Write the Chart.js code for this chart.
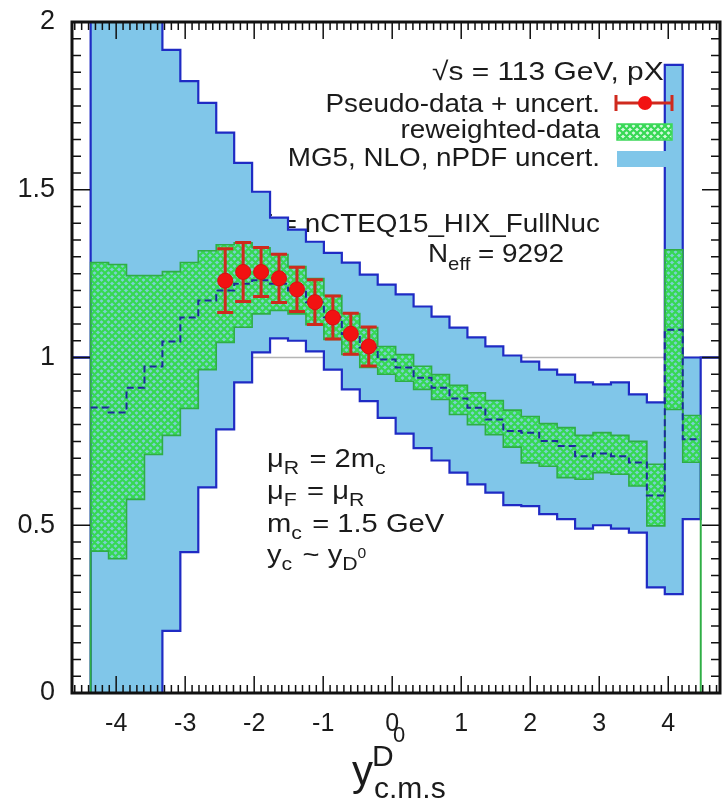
<!DOCTYPE html>
<html>
<head>
<meta charset="utf-8">
<script src="https://cdn.jsdelivr.net/npm/chart.js@4.4.0/dist/chart.umd.min.js"></script>
<style>
  html, body { margin: 0; padding: 0; background: #fff; }
  #wrap { width: 722px; height: 800px; position: relative; }
</style>
</head>
<body>
<div id="wrap"><canvas id="c"></canvas></div>
<script>
// rapidity bin edges (34 bins)
const binEdges = [-4.37, -4.11, -3.85, -3.59, -3.33, -3.07, -2.81, -2.55, -2.29, -2.03, -1.77, -1.51,
  -1.25, -0.99, -0.73, -0.47, -0.21, 0.05, 0.31, 0.57, 0.83, 1.09, 1.35, 1.61, 1.87, 2.13, 2.39,
  2.65, 2.91, 3.17, 3.43, 3.69, 3.95, 4.21, 4.47];

// MG5, NLO, nPDF uncertainty band
const mg5Upper = [2.6, 2.6, 2.6, 2.6, 1.917, 1.824, 1.759, 1.67, 1.58, 1.494, 1.417, 1.381, 1.345,
  1.312, 1.283, 1.247, 1.217, 1.188, 1.152, 1.122, 1.089, 1.06, 1.033, 1.006, 0.988, 0.964, 0.949,
  0.926, 0.92, 0.926, 0.89, 0.866, 1.872, 1.0];
const mg5Lower = [-0.3, -0.3, -0.3, -0.3, 0.185, 0.42, 0.613, 0.786, 0.926, 1.015, 1.057, 1.05, 1.018,
  0.964, 0.905, 0.87, 0.82, 0.773, 0.73, 0.693, 0.657, 0.622, 0.597, 0.56, 0.557, 0.533, 0.518,
  0.49, 0.5, 0.49, 0.478, 0.315, 0.295, 0.518];

// reweighted-data band + its central value
const rwUpper = [1.283, 1.277, 1.244, 1.244, 1.256, 1.283, 1.318, 1.336, 1.342, 1.327, 1.307, 1.271,
  1.235, 1.185, 1.131, 1.089, 1.033, 1.009, 0.974, 0.949, 0.917, 0.895, 0.872, 0.843, 0.824, 0.803,
  0.791, 0.768, 0.776, 0.768, 0.75, 0.682, 1.321, 0.827];
const rwLower = [0.423, 0.40, 0.577, 0.711, 0.768, 0.848, 0.964, 1.045, 1.09, 1.13, 1.14, 1.13, 1.098,
  1.054, 1.009, 0.97, 0.95, 0.929, 0.905, 0.875, 0.83, 0.80, 0.77, 0.733, 0.686, 0.676, 0.642,
  0.637, 0.657, 0.652, 0.617, 0.498, 0.845, 0.688];
const rwCentral = [0.851, 0.836, 0.91, 0.973, 1.048, 1.119, 1.17, 1.20, 1.22, 1.23, 1.22, 1.20, 1.165,
  1.12, 1.07, 1.03, 0.994, 0.97, 0.94, 0.91, 0.878, 0.85, 0.815, 0.781, 0.776, 0.751, 0.736, 0.706,
  0.714, 0.706, 0.687, 0.589, 1.083, 0.756];

// pseudo-data points
const pseudoX = [-2.42, -2.16, -1.90, -1.64, -1.38, -1.12, -0.86, -0.60, -0.34];
const pseudoY = [1.229, 1.255, 1.255, 1.236, 1.203, 1.165, 1.119, 1.071, 1.033];
const pseudoErr = [0.095, 0.088, 0.073, 0.072, 0.066, 0.067, 0.064, 0.061, 0.058];

const xTickValues = [-4, -3, -2, -1, 0, 1, 2, 3, 4];
const yTickValues = [0, 0.5, 1, 1.5, 2];
const yTickLabels = ['0', '0.5', '1', '1.5', '2'];

const X_MIN = -4.64, X_MAX = 4.75;
const FONT = '"Liberation Sans", Arial, Helvetica, sans-serif';
const BLUE_LINE = '#1f2bc4';
const BLUE_FILL = '#80c6e9';
const GREEN_LINE = '#2fae45';
const ERR_RED = '#cf2a1e';
const TXT = '#1b1b1b';

function makeHatch() {
  const c = document.createElement('canvas');
  c.width = 7; c.height = 7;
  const g = c.getContext('2d');
  g.fillStyle = 'rgba(110,235,150,0.3)';
  g.fillRect(0, 0, 7, 7);
  g.strokeStyle = '#36d853';
  g.lineWidth = 2.2;
  g.beginPath();
  for (const k of [-7, 0, 7]) {
    g.moveTo(k, 0); g.lineTo(k + 7, 7);
    g.moveTo(k, 7); g.lineTo(k + 7, 0);
  }
  g.stroke();
  return g.createPattern(c, 'repeat');
}
const hatch = makeHatch();

// histogram outline: values held from each left edge, optional level outside the range
function stepPoints(vals, outside) {
  const pts = [];
  if (outside !== undefined) pts.push({ x: X_MIN, y: outside });
  vals.forEach((v, i) => pts.push({ x: binEdges[i], y: v }));
  const last = binEdges[binEdges.length - 1];
  if (outside !== undefined) {
    pts.push({ x: last, y: outside });
    pts.push({ x: X_MAX, y: outside });
  } else {
    pts.push({ x: last, y: vals[vals.length - 1] });
  }
  return pts;
}

function richText(ctx, parts, x, y, align, sx) {
  sx = sx || 1;
  let w = 0;
  parts.forEach(p => { ctx.font = p.s + 'px ' + FONT; w += ctx.measureText(p.t).width + (p.gap || 0); });
  ctx.save();
  ctx.translate(x, y);
  ctx.scale(sx, 1);
  let cx = align === 'right' ? -w : 0;
  ctx.textAlign = 'left';
  ctx.textBaseline = 'alphabetic';
  parts.forEach(p => {
    ctx.font = p.s + 'px ' + FONT;
    ctx.fillText(p.t, cx, p.dy || 0);
    cx += ctx.measureText(p.t).width + (p.gap || 0);
  });
  ctx.restore();
}

// keep the plot frame where the original has it
function noPad(s) {
  s.paddingTop = 0; s.paddingBottom = 0; s.paddingLeft = 0; s.paddingRight = 0;
}

const decor = {
  id: 'decor',
  beforeDatasetsDraw(chart) {
    const ctx = chart.ctx, ys = chart.scales.y;
    const { left, right } = chart.chartArea;
    ctx.save();
    ctx.strokeStyle = '#b4b4b4';
    ctx.lineWidth = 1.5;
    const y1 = ys.getPixelForValue(1);
    ctx.beginPath(); ctx.moveTo(left, y1); ctx.lineTo(right, y1); ctx.stroke();
    ctx.fillStyle = TXT;
    // these sit behind the bands in the original
    richText(ctx, [{ t: '\u221As = 113 GeV, pXe', s: 26 }], 432, 80, 'left', 1.15);
    richText(ctx, [{ t: 'nPDF = nCTEQ15_HIX_FullNuc', s: 26 }], 600, 232, 'right', 1.07);
    ctx.restore();
  },
  beforeDatasetDraw(chart, args) {
    if (args.index !== 0) return;
    const ctx = chart.ctx, xs = chart.scales.x, ys = chart.scales.y;
    ctx.save();
    ctx.strokeStyle = ERR_RED;
    ctx.lineWidth = 3;
    pseudoX.forEach((x, i) => {
      const px = xs.getPixelForValue(x);
      const lo = ys.getPixelForValue(pseudoY[i] - pseudoErr[i]);
      const hi = ys.getPixelForValue(pseudoY[i] + pseudoErr[i]);
      ctx.beginPath();
      ctx.moveTo(px, lo); ctx.lineTo(px, hi);
      ctx.moveTo(px - 8, lo); ctx.lineTo(px + 8, lo);
      ctx.moveTo(px - 8, hi); ctx.lineTo(px + 8, hi);
      ctx.stroke();
    });
    ctx.restore();
  },
  afterDatasetsDraw(chart) {
    const ctx = chart.ctx, xs = chart.scales.x, ys = chart.scales.y;
    const { left, right, top, bottom } = chart.chartArea;
    ctx.save();
    // inward ticks on all four sides
    ctx.strokeStyle = '#111';
    ctx.lineWidth = 1.5;
    ctx.beginPath();
    for (let k = Math.ceil(X_MIN * 10); k <= Math.floor(X_MAX * 10); k++) {
      const px = xs.getPixelForValue(k / 10);
      const len = k % 10 === 0 ? 17 : 8;
      ctx.moveTo(px, bottom); ctx.lineTo(px, bottom - len);
      ctx.moveTo(px, top); ctx.lineTo(px, top + len);
    }
    for (let k = 1; k < 40; k++) {
      const py = ys.getPixelForValue(k * 0.05);
      const len = k % 10 === 0 ? 18 : 9;
      ctx.moveTo(left, py); ctx.lineTo(left + len, py);
      ctx.moveTo(right, py); ctx.lineTo(right - len, py);
    }
    ctx.stroke();
    ctx.lineWidth = 3;
    ctx.strokeRect(left, top, right - left, bottom - top);

    // legend
    ctx.fillStyle = TXT;
    richText(ctx, [{ t: 'Pseudo-data + uncert.', s: 26 }], 600, 112, 'right', 1.07);
    richText(ctx, [{ t: 'reweighted-data', s: 26 }], 600, 138, 'right', 1.07);
    richText(ctx, [{ t: 'MG5, NLO, nPDF uncert.', s: 26 }], 600, 166, 'right', 1.07);
    ctx.strokeStyle = ERR_RED;
    ctx.lineWidth = 3;
    ctx.beginPath();
    ctx.moveTo(616, 103); ctx.lineTo(672, 103);
    ctx.moveTo(616, 95); ctx.lineTo(616, 111);
    ctx.moveTo(672, 95); ctx.lineTo(672, 111);
    ctx.stroke();
    ctx.fillStyle = '#f21212';
    ctx.beginPath(); ctx.arc(645, 103, 7, 0, Math.PI * 2); ctx.fill();
    ctx.fillStyle = '#ffffff';
    ctx.fillRect(617, 124, 55, 16);
    ctx.fillStyle = hatch;
    ctx.fillRect(617, 124, 55, 16);
    ctx.strokeStyle = '#3cd85a';
    ctx.lineWidth = 1.5;
    ctx.strokeRect(617, 124, 55, 16);
    ctx.fillStyle = BLUE_FILL;
    ctx.fillRect(617, 151, 50, 16);

    // annotations
    ctx.fillStyle = TXT;
    richText(ctx, [{ t: 'N', s: 26 }, { t: 'eff', s: 19, dy: 8 }, { t: ' = 9292', s: 26 }], 428, 262, 'left', 1.07);
    richText(ctx, [{ t: '\u03BC', s: 26 }, { t: 'R', s: 19, dy: 7, gap: 2 }, { t: ' = 2m', s: 26 }, { t: 'c', s: 19, dy: 7 }], 267, 467, 'left', 1.12);
    richText(ctx, [{ t: '\u03BC', s: 26 }, { t: 'F', s: 19, dy: 7, gap: 2 }, { t: ' = \u03BC', s: 26 }, { t: 'R', s: 19, dy: 7 }], 267, 499, 'left', 1.12);
    richText(ctx, [{ t: 'm', s: 26 }, { t: 'c', s: 19, dy: 7, gap: 2 }, { t: ' = 1.5 GeV', s: 26 }], 267, 532, 'left', 1.12);
    richText(ctx, [{ t: 'y', s: 26 }, { t: 'c', s: 19, dy: 7, gap: 2 }, { t: ' ~ y', s: 26 }, { t: 'D', s: 19, dy: 7 }, { t: '0', s: 14, dy: -5 }], 267, 563, 'left', 1.12);

    // x axis title  y^{D0}_{c.m.s}
    richText(ctx, [{ t: 'y', s: 42 }], 352, 785, 'left');
    richText(ctx, [{ t: 'D', s: 30 }], 372, 766, 'left');
    richText(ctx, [{ t: '0', s: 22 }], 393, 742, 'left');
    richText(ctx, [{ t: 'c.m.s', s: 30 }], 374, 798, 'left');
    ctx.restore();
  }
};

const lineBase = { stepped: true, pointRadius: 0, pointHoverRadius: 0, tension: 0 };

new Chart(document.getElementById('c'), {
  type: 'line',
  data: {
    datasets: [
      {
        label: 'Pseudo-data + uncert.',
        data: pseudoX.map((x, i) => ({ x: x, y: pseudoY[i] })),
        showLine: false,
        pointRadius: 7.5,
        pointHoverRadius: 7.5,
        pointBackgroundColor: '#f21212',
        pointBorderColor: '#d81010',
        pointBorderWidth: 1,
        order: 0
      },
      Object.assign({}, lineBase, {
        label: 'reweighted central',
        data: stepPoints(rwCentral),
        borderColor: '#1c2a9c',
        borderWidth: 2,
        borderDash: [7, 4],
        fill: false,
        order: 1
      }),
      Object.assign({}, lineBase, {
        label: 'reweighted-data',
        data: stepPoints(rwUpper, 0),
        borderColor: GREEN_LINE,
        borderWidth: 1.6,
        backgroundColor: hatch,
        fill: '+1',
        order: 3
      }),
      Object.assign({}, lineBase, {
        label: 'reweighted lower',
        data: stepPoints(rwLower, 0),
        borderColor: GREEN_LINE,
        borderWidth: 1.6,
        fill: false,
        order: 2
      }),
      Object.assign({}, lineBase, {
        label: 'MG5, NLO, nPDF uncert.',
        data: stepPoints(mg5Upper, 1),
        borderColor: BLUE_LINE,
        borderWidth: 2.2,
        backgroundColor: BLUE_FILL,
        fill: '+1',
        order: 5
      }),
      Object.assign({}, lineBase, {
        label: 'MG5 lower',
        data: stepPoints(mg5Lower, 1),
        borderColor: BLUE_LINE,
        borderWidth: 2.2,
        fill: false,
        order: 4
      })
    ]
  },
  options: {
    responsive: true,
    maintainAspectRatio: false,
    animation: false,
    layout: { autoPadding: false, padding: { top: 22, right: 2, left: 0, bottom: 0 } },
    plugins: {
      legend: { display: false },
      tooltip: { enabled: false },
      filler: { propagate: false }
    },
    scales: {
      x: {
        type: 'linear',
        min: X_MIN,
        max: X_MAX,
        grid: { display: false, drawTicks: false },
        border: { display: false },
        afterFit: s => { s.height = 107; noPad(s); },
        afterBuildTicks: s => { s.ticks = xTickValues.map(v => ({ value: v })); },
        ticks: {
          font: { family: FONT, size: 25 },
          color: TXT,
          padding: 16,
          maxRotation: 0,
          autoSkip: false,
          callback: v => String(v)
        }
      },
      y: {
        type: 'linear',
        min: 0,
        max: 2,
        grid: { display: false, drawTicks: false },
        border: { display: false },
        afterFit: s => { s.width = 72; noPad(s); },
        afterBuildTicks: s => { s.ticks = yTickValues.map(v => ({ value: v })); },
        ticks: {
          font: { family: FONT, size: 27 },
          color: TXT,
          padding: 17,
          autoSkip: false,
          callback: (v, i) => yTickLabels[i]
        }
      }
    }
  },
  plugins: [decor]
});
</script>
</body>
</html>
